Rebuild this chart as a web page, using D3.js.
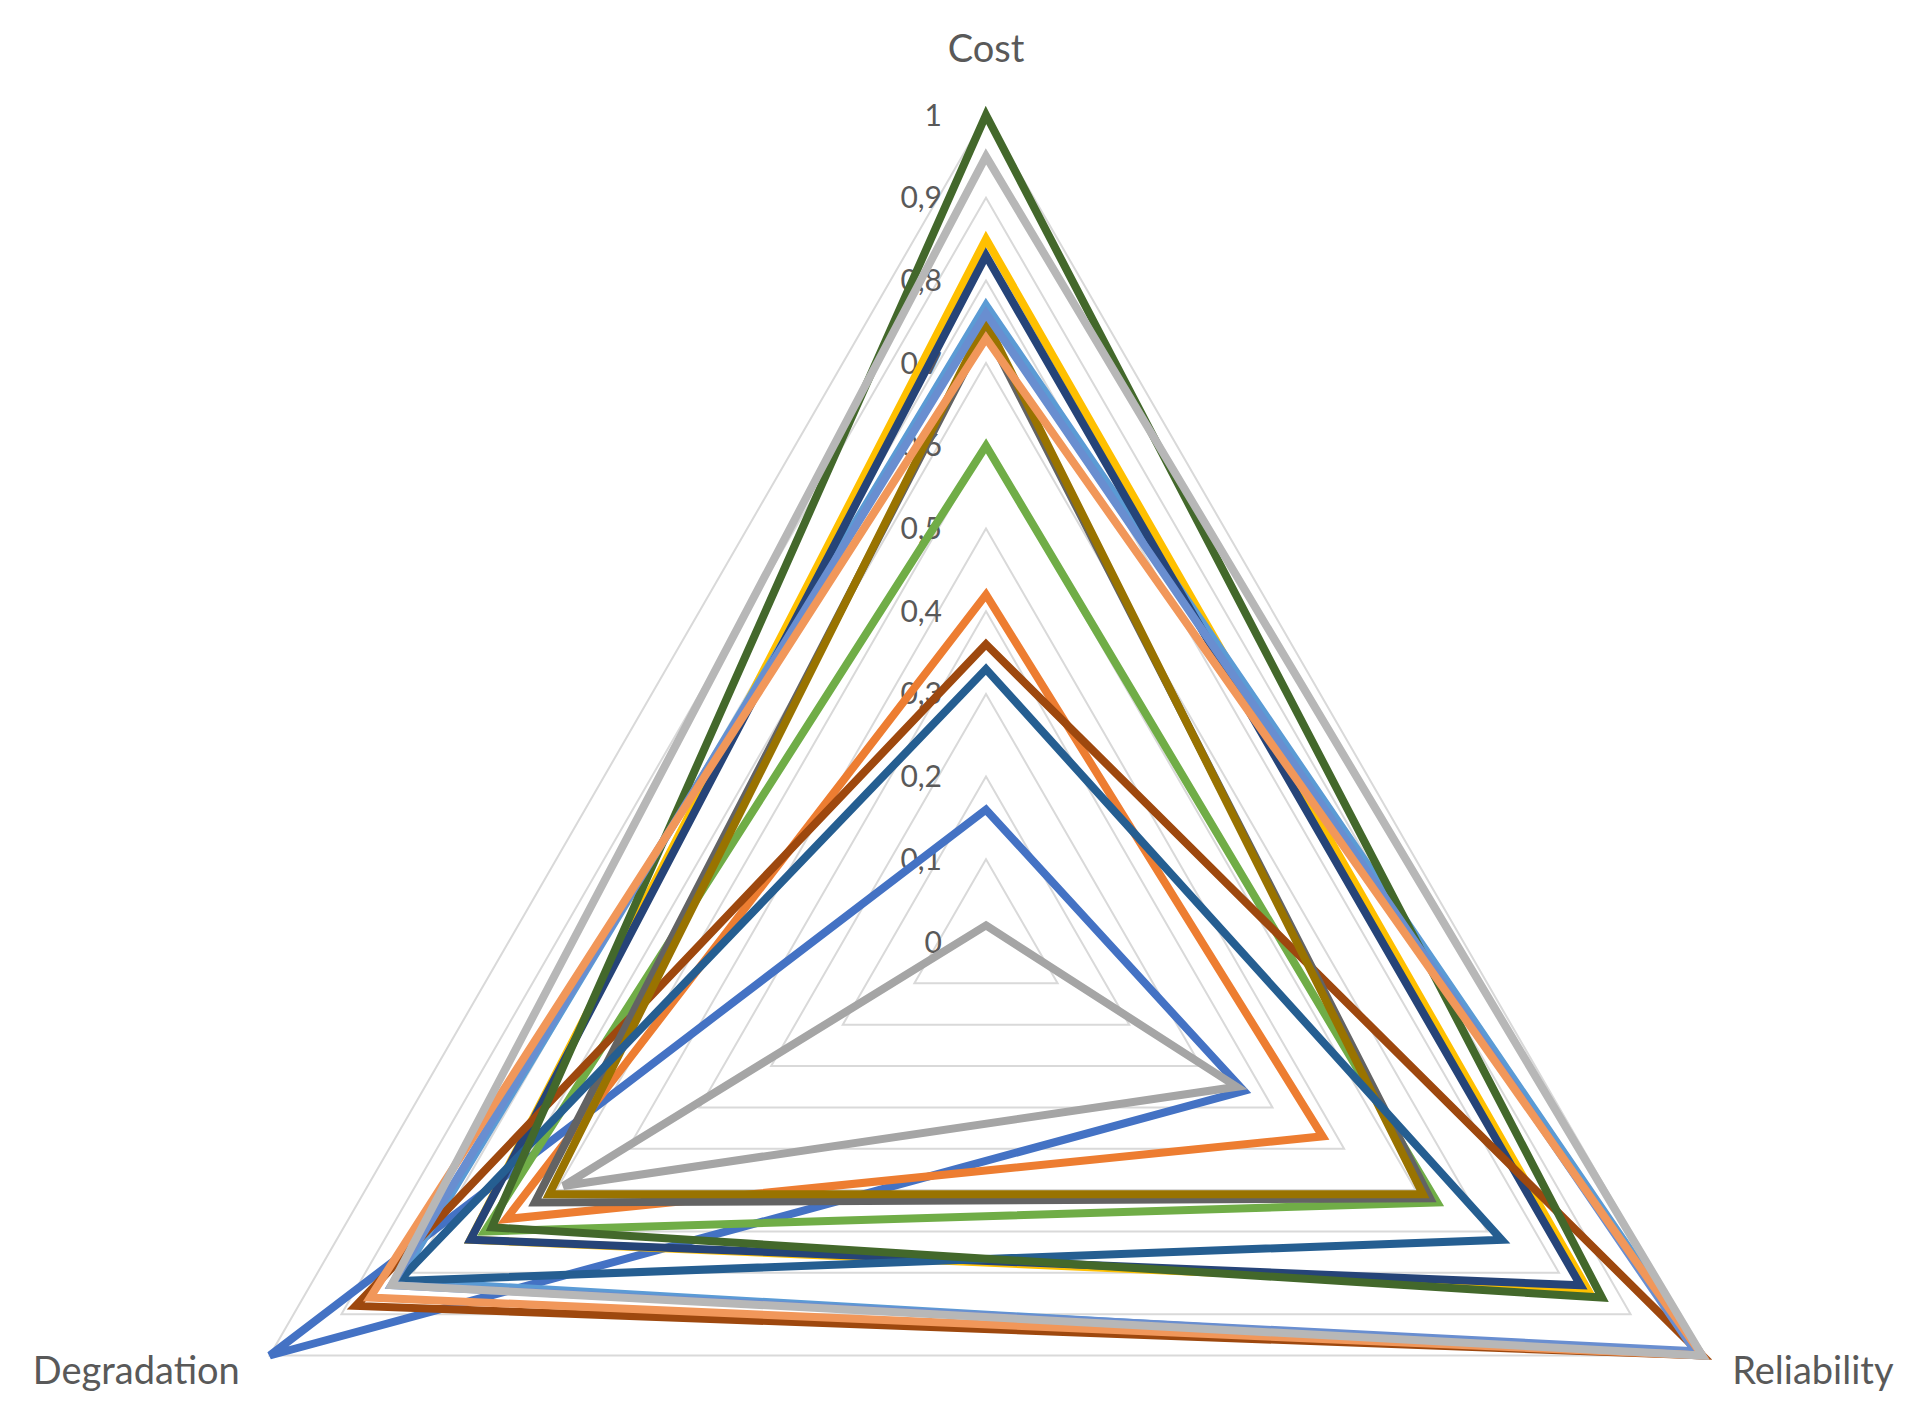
<!DOCTYPE html>
<html>
<head>
<meta charset="utf-8">
<script src="https://cdn.jsdelivr.net/npm/d3@7"></script>
<style>
  body { margin: 0; background: #fff; }
  text { font-family: Lato, "Open Sans", sans-serif; fill: #595959; }
</style>
</head>
<body>
<svg id="chart"></svg>
<script>
// axes of the radar, clockwise from the top
var axes = ["Cost", "Reliability", "Degradation"];

var tickValues = [0, 0.1, 0.2, 0.3, 0.4, 0.5, 0.6, 0.7, 0.8, 0.9, 1];
var tickLabels = ["0", "0,1", "0,2", "0,3", "0,4", "0,5", "0,6", "0,7", "0,8", "0,9", "1"];

// one entry per series, in drawing order
var seriesColors = ["#4472C4", "#ED7D31", "#A5A5A5", "#FFC000", "#5B9BD5",
                    "#70AD47", "#264478", "#9E480E", "#636363", "#997300",
                    "#255E91", "#43682B", "#698ED0", "#F1975A", "#B7B7B7"];
var costValues        = [0.16, 0.42, 0.02, 0.85, 0.77, 0.60, 0.83, 0.36, 0.74, 0.75, 0.33, 1.00, 0.76, 0.73, 0.95];
var reliabilityValues = [0.36, 0.47, 0.35, 0.84, 1.00, 0.63, 0.83, 1.00, 0.62, 0.61, 0.72, 0.86, 0.99, 1.00, 1.00];
var degradationValues = [1.00, 0.67, 0.59, 0.72, 0.82, 0.70, 0.72, 0.88, 0.63, 0.61, 0.82, 0.69, 0.83, 0.86, 0.83];

const width = 1928;
const height = 1417;
const cx = 986;
const cy = 942;
const radius = 827;

var svg = d3.select("#chart")
    .attr("width", width)
    .attr("height", height)
    .attr("viewBox", [0, 0, width, height]);

var r = d3.scaleLinear([0, 1], [0, radius]);
var angle = d3.scalePoint(axes, [0, 2 * Math.PI * 2 / 3]);

var g = svg.append("g").attr("transform", "translate(" + cx + "," + cy + ")");

var radial = d3.lineRadial()
    .angle(function(d) { return angle(d.axis); })
    .radius(function(d) { return r(d.value); })
    .curve(d3.curveLinearClosed);

// triangular grid rings
g.append("g")
    .selectAll("path")
    .data(tickValues.slice(1))
    .join("path")
    .attr("d", function(v) { return radial(axes.map(function(a) { return { axis: a, value: v }; })); })
    .attr("fill", "none")
    .attr("stroke", "#D9D9D9")
    .attr("stroke-width", 2);

// value labels along the Cost axis
g.append("g")
    .selectAll("text")
    .data(tickValues)
    .join("text")
    .attr("x", -44)
    .attr("y", function(v) { return -r(v); })
    .attr("dy", "0.35em")
    .attr("text-anchor", "end")
    .attr("font-size", 30)
    .text(function(v, i) { return tickLabels[i]; });

// series
var series = seriesColors.map(function(c, i) {
    return {
        color: c,
        points: [
            { axis: "Cost", value: costValues[i] },
            { axis: "Reliability", value: reliabilityValues[i] },
            { axis: "Degradation", value: degradationValues[i] }
        ]
    };
});

g.append("g")
    .selectAll("path")
    .data(series)
    .join("path")
    .attr("d", function(s) { return radial(s.points); })
    .attr("fill", "none")
    .attr("stroke", function(s) { return s.color; })
    .attr("stroke-width", 8)
    .attr("stroke-linejoin", "miter");

// axis names
function tip(a) {
    var t = angle(a) - Math.PI / 2;
    return [r(1) * Math.cos(t), r(1) * Math.sin(t)];
}
var catLabels = g.append("g");
var pc = tip("Cost");
catLabels.append("text").attr("x", pc[0]).attr("y", pc[1] - 53)
    .attr("text-anchor", "middle").attr("font-size", 38).text(axes[0]);
var pr = tip("Reliability");
catLabels.append("text").attr("x", pr[0] + 30).attr("y", pr[1] + 28)
    .attr("text-anchor", "start").attr("font-size", 38).text(axes[1]);
var pd = tip("Degradation");
catLabels.append("text").attr("x", pd[0] - 30).attr("y", pd[1] + 28)
    .attr("text-anchor", "end").attr("font-size", 38).text(axes[2]);
</script>
</body>
</html>
